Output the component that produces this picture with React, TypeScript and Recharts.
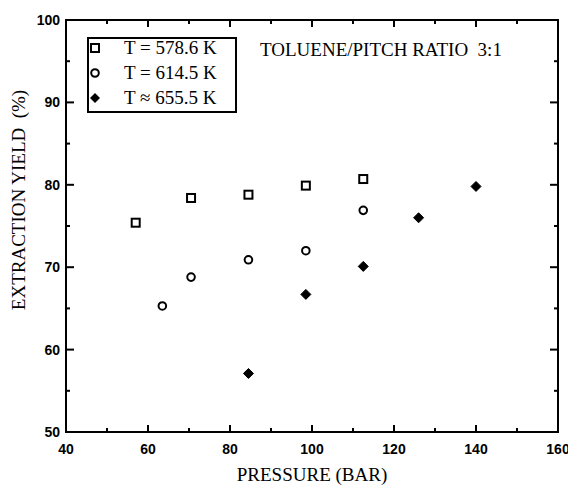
import React from 'react';
import {
  ScatterChart,
  Scatter,
  XAxis,
  YAxis
} from 'recharts';

const pressures578 = [57, 70.5, 84.5, 98.5, 112.5];
const yields578 = [75.4, 78.4, 78.8, 79.9, 80.7];
const pressures614 = [63.5, 70.5, 84.5, 98.5, 112.5];
const yields614 = [65.3, 68.8, 70.9, 72.0, 76.9];
const pressures655 = [84.5, 98.5, 112.5, 126, 140];
const yields655 = [57.1, 66.7, 70.1, 76.0, 79.8];

const xMajor = [40, 60, 80, 100, 120, 140, 160];
const xMinor = [50, 70, 90, 110, 130, 150];
const yMajor = [50, 60, 70, 80, 90, 100];
const yMinor = [55, 65, 75, 85, 95];

const seriesNames = ['T = 578.6 K', 'T = 614.5 K', 'T \u2248 655.5 K'];

const zip = (xs: number[], ys: number[]) => xs.map((x, i) => ({ x, y: ys[i] }));

// the page keeps its 8px body margin, so the chart is 8px smaller each way
const W = 568;
const H = 481;
const margin = { left: 58, right: 18, top: 12, bottom: 57 };
const X_DOMAIN: [number, number] = [40, 160];
const Y_DOMAIN: [number, number] = [50, 100];
const plotW = W - margin.left - margin.right;
const plotH = H - margin.top - margin.bottom;

// same mapping as the chart, only for the frame and inward tick marks
const sx = (v: number) => margin.left + ((v - X_DOMAIN[0]) / (X_DOMAIN[1] - X_DOMAIN[0])) * plotW;
const sy = (v: number) => margin.top + ((Y_DOMAIN[1] - v) / (Y_DOMAIN[1] - Y_DOMAIN[0])) * plotH;

const INK = '#000';
const tickFont = { fontFamily: '"Liberation Sans", Arial, sans-serif', fontWeight: 700, fontSize: 14 };
const serif = '"Liberation Serif", "Times New Roman", serif';

const SquareMark = ({ cx, cy }: any) => (
  <rect x={cx - 4} y={cy - 4} width={8} height={8} fill="#fff" stroke={INK} strokeWidth={2} />
);
const CircleMark = ({ cx, cy }: any) => (
  <circle cx={cx} cy={cy} r={3.8} fill="#fff" stroke={INK} strokeWidth={2} />
);
const DiamondMark = ({ cx, cy }: any) => (
  <path d={`M${cx},${cy - 5}L${cx + 5},${cy}L${cx},${cy + 5}L${cx - 5},${cy}Z`} fill={INK} stroke={INK} strokeWidth={1} strokeLinejoin="round" />
);

const BottomLabel = ({ x, y, payload }: any) => (
  <text x={x} y={y + 22} textAnchor="middle" fill={INK} {...tickFont}>{payload.value}</text>
);
const LeftLabel = ({ x, y, payload }: any) => (
  <text x={x - 6} y={y + 5} textAnchor="end" fill={INK} {...tickFont}>{payload.value}</text>
);

const Frame = () => {
  const x0 = sx(X_DOMAIN[0]);
  const x1 = sx(X_DOMAIN[1]);
  const y0 = sy(Y_DOMAIN[0]);
  const y1 = sy(Y_DOMAIN[1]);
  const xt = [...xMajor.map((v) => [v, 7]), ...xMinor.map((v) => [v, 4])];
  const yt = [...yMajor.map((v) => [v, 8]), ...yMinor.map((v) => [v, 4])];
  return (
    <svg width={W} height={H} style={{ position: 'absolute', left: 0, top: 0, pointerEvents: 'none' }}>
      <line x1={x0} y1={y0} x2={x1} y2={y0} stroke={INK} strokeWidth={2} />
      <line x1={x0} y1={y1} x2={x1} y2={y1} stroke={INK} strokeWidth={2} />
      <line x1={x0} y1={y0 + 1} x2={x0} y2={y1 - 1} stroke={INK} strokeWidth={2} />
      <line x1={x1} y1={y0 + 1} x2={x1} y2={y1 - 1} stroke={INK} strokeWidth={2} />
      {xt.map(([v, l]) => (
        <g key={`x${v}`}>
          <line x1={sx(v)} y1={y0} x2={sx(v)} y2={y0 - l} stroke={INK} strokeWidth={2} />
          <line x1={sx(v)} y1={y1} x2={sx(v)} y2={y1 + l} stroke={INK} strokeWidth={2} />
        </g>
      ))}
      {yt.map(([v, l]) => (
        <g key={`y${v}`}>
          <line x1={x0} y1={sy(v)} x2={x0 + l} y2={sy(v)} stroke={INK} strokeWidth={2} />
          <line x1={x1} y1={sy(v)} x2={x1 - l} y2={sy(v)} stroke={INK} strokeWidth={2} />
        </g>
      ))}
    </svg>
  );
};

const LegendBox = () => {
  const marks = [
    <rect key="s" x={4} y={-4} width={8} height={8} fill="#fff" stroke={INK} strokeWidth={2} />,
    <circle key="c" cx={8} cy={0} r={3.8} fill="#fff" stroke={INK} strokeWidth={2} />,
    <path key="d" d="M8,-5L13,0L8,5L3,0Z" fill={INK} />
  ];
  return (
    <svg width={150} height={76} style={{ position: 'absolute', left: 79, top: 29 }}>
      <rect x={1} y={1} width={148} height={74} fill="#fff" stroke={INK} strokeWidth={2} />
      {seriesNames.map((name, i) => (
        <g key={name} transform={`translate(0, ${11 + i * 25})`}>
          {marks[i]}
          <text x={37} y={6} fontFamily={serif} fontSize={19} fill={INK}>{name}</text>
        </g>
      ))}
    </svg>
  );
};

export default function App() {
  return (
    <div style={{ position: 'relative', width: W, height: H }}>
      <ScatterChart width={W} height={H} margin={{ top: margin.top, right: margin.right, bottom: 0, left: 0 }}>
        <XAxis
          dataKey="x"
          type="number"
          domain={X_DOMAIN}
          ticks={xMajor}
          interval={0}
          height={margin.bottom}
          stroke={INK}
          tickLine={false}
          tickSize={0}
          tickMargin={0}
          tick={BottomLabel}
          label={{ value: 'PRESSURE  (BAR)', position: 'insideBottom', offset: 8, fontFamily: serif, fontSize: 19, fill: INK }}
        />
        <YAxis
          dataKey="y"
          type="number"
          domain={Y_DOMAIN}
          ticks={yMajor}
          interval={0}
          width={margin.left}
          stroke={INK}
          tickLine={false}
          tickSize={0}
          tickMargin={0}
          tick={LeftLabel}
        />
        <Scatter name={seriesNames[0]} data={zip(pressures578, yields578)} shape={<SquareMark />} isAnimationActive={false} />
        <Scatter name={seriesNames[1]} data={zip(pressures614, yields614)} shape={<CircleMark />} isAnimationActive={false} />
        <Scatter name={seriesNames[2]} data={zip(pressures655, yields655)} shape={<DiamondMark />} isAnimationActive={false} />
      </ScatterChart>
      <Frame />
      <div
        style={{
          position: 'absolute',
          left: 11,
          top: 192,
          transform: 'translate(-50%, -50%) rotate(-90deg)',
          fontFamily: serif,
          fontSize: 19,
          lineHeight: '22px',
          color: INK,
          whiteSpace: 'pre'
        }}
      >
        {'EXTRACTION YIELD  (%)'}
      </div>
      <LegendBox />
      <div
        style={{
          position: 'absolute',
          left: 252,
          top: 31,
          fontFamily: serif,
          fontSize: 19,
          lineHeight: '22px',
          color: INK,
          whiteSpace: 'pre'
        }}
      >
        {'TOLUENE/PITCH RATIO  3:1'}
      </div>
    </div>
  );
}
